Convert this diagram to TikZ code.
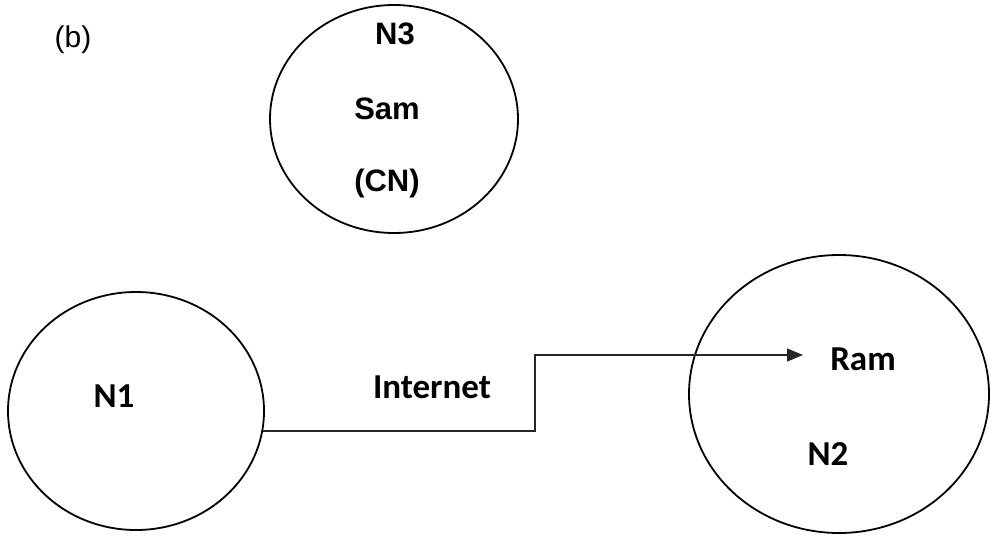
\documentclass[tikz,border=0pt]{standalone}
\usepackage{fontspec}
\setmainfont{Carlito}
\newfontfamily\arialfont{Liberation Sans}
\usetikzlibrary{shapes.geometric,arrows.meta}
\tikzset{
  bubble/.style={draw=black, line width=1.8pt, ellipse, inner sep=0pt},
  lbl/.style={inner sep=0pt, anchor=base, font=\fontsize{35}{40}\selectfont\bfseries},
  albl/.style={inner sep=0pt, anchor=base, font=\arialfont\fontsize{31}{36}\selectfont\bfseries},
  link/.style={draw=black!85, line width=1.3pt, -{Triangle[length=16pt,width=13pt]}},
}
\begin{document}
\begin{tikzpicture}[x=1pt,y=-1pt]
\useasboundingbox (0,0) rectangle (991,535);
% ellipses
\node[bubble, minimum width=248pt, minimum height=228pt] (n3) at (394,119) {};
\node[bubble, minimum width=256pt, minimum height=238pt] (n1) at (136,411) {};
\node[bubble, minimum width=300pt, minimum height=278pt] (n2) at (839,394) {};
% labels
\node[inner sep=0pt, anchor=base, font=\arialfont\fontsize{30}{35}\selectfont] (b) at (73,48) {(b)};
\node[albl] (t3) at (395,45) {N3};
\node[albl] (sam) at (387,119) {Sam};
\node[albl] (cn) at (387,191) {(CN)};
\node[lbl] (t1) at (114,407) {N1};
\node[lbl] (inet) at (432,398) {Internet};
\node[lbl] (ram) at (863,370) {Ram};
\node[lbl] (t2) at (828,465) {N2};
% connector
\coordinate (tip) at (803,355);
\draw[link] (n1.-9) -| ([xshift=-268pt]tip) |- (tip);
\end{tikzpicture}
\end{document}
